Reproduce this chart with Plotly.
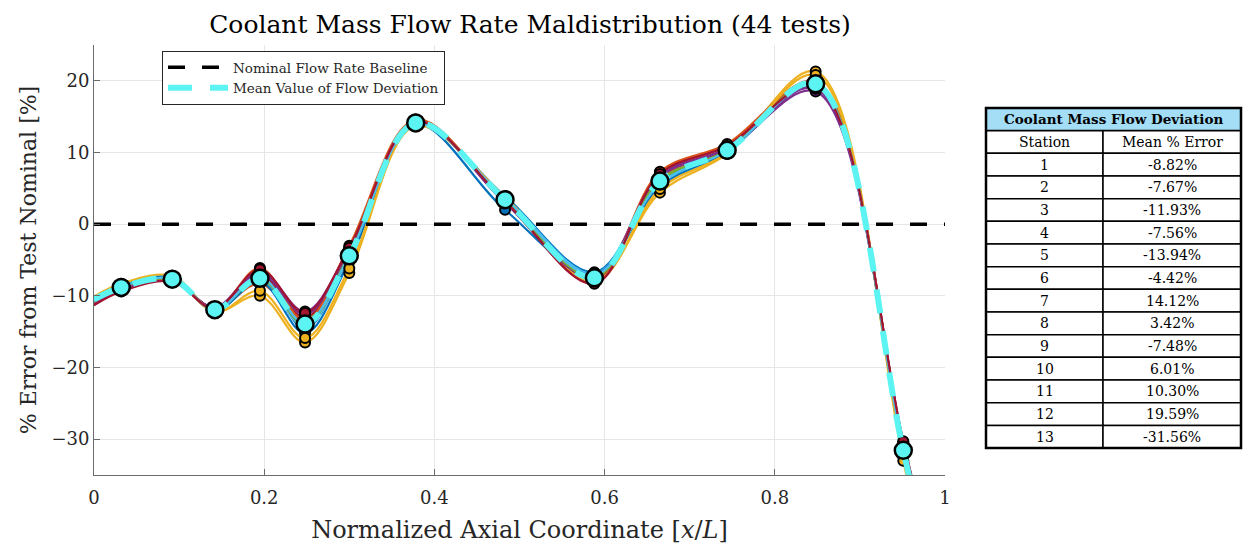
import plotly.graph_objects as go

# ---------------- data ----------------
station_x = [0.032, 0.092, 0.142, 0.195, 0.248, 0.300, 0.378, 0.483, 0.588, 0.665, 0.744, 0.848, 0.951]
station_ids = [1, 2, 3, 4, 5, 6, 7, 8, 9, 10, 11, 12, 13]
mean_error = [-8.82, -7.67, -11.93, -7.56, -13.94, -4.42, 14.12, 3.42, -7.48, 6.01, 10.30, 19.59, -31.56]
curve_ends_x = [0.0, 1.0]
mean_ends = [-10.5, -58.0]

test_01 = [-8.9, -7.5, -12.1, -7.0, -14.6, -4.2, 14.0, 3.9, -6.7, 5.8, 10.1, 19.2, -31.0]
test_02 = [-9.2, -7.9, -11.8, -8.3, -13.6, -5.0, 14.3, 3.2, -7.6, 6.4, 10.6, 19.9, -31.9]
test_03 = [-8.4, -7.3, -12.2, -10.0, -16.5, -6.8, 13.8, 3.6, -7.9, 4.4, 9.8, 21.3, -32.4]
test_04 = [-9.0, -8.0, -11.6, -6.5, -12.2, -3.4, 14.4, 3.0, -7.2, 6.6, 10.4, 18.5, -30.4]
test_05 = [-8.7, -7.6, -11.9, -7.2, -13.2, -4.0, 14.0, 3.5, -7.3, 6.2, 10.2, 19.5, -31.3]
test_06 = [-8.6, -7.4, -12.0, -7.8, -14.3, -4.6, 13.9, 3.7, -6.9, 5.6, 10.0, 19.8, -31.8]
test_07 = [-9.3, -7.9, -11.7, -7.0, -13.0, -3.5, 14.5, 3.1, -8.2, 7.2, 11.0, 19.3, -30.9]
test_08 = [-8.5, -7.5, -12.1, -8.0, -15.2, -5.2, 13.9, 2.0, -7.0, 5.2, 10.1, 19.6, -32.1]
test_09 = [-9.0, -7.8, -12.0, -6.1, -13.5, -3.0, 14.6, 3.3, -7.8, 7.3, 11.2, 19.8, -31.2]
test_10 = [-8.3, -7.2, -12.3, -9.3, -15.9, -6.2, 13.7, 3.8, -8.0, 4.9, 9.9, 20.8, -33.0]
test_11 = [-9.1, -8.0, -11.6, -6.8, -12.6, -3.6, 14.4, 3.0, -7.5, 6.8, 10.6, 18.9, -30.6]
test_12 = [-8.8, -7.7, -11.9, -7.6, -14.0, -4.3, 14.1, 3.4, -7.4, 6.0, 10.3, 19.6, -31.5]
test_13 = [-8.7, -7.6, -12.0, -7.4, -13.8, -4.4, 14.0, 3.6, -7.1, 5.7, 10.2, 19.4, -31.6]
test_14 = [-9.4, -8.0, -11.8, -6.3, -12.4, -3.3, 14.3, 3.2, -8.3, 7.0, 10.9, 19.2, -30.3]
test_start = [-10.9, -11.1, -10.2, -11.2, -10.8, -10.6, -11.3, -10.4, -11.0, -10.1, -11.2, -10.8, -10.7, -11.3]
test_end = [-57.0, -59.0, -60.5, -55.5, -58.0, -59.0, -57.5, -60.0, -57.5, -61.0, -56.0, -58.0, -58.5, -55.0]
tests = [test_01, test_02, test_03, test_04, test_05, test_06, test_07,
         test_08, test_09, test_10, test_11, test_12, test_13, test_14]

baseline_x = [0.0, 1.0]
baseline_y = [0.0, 0.0]

x_tick_vals = [0, 0.2, 0.4, 0.6, 0.8, 1]
x_tick_text = ["0", "0.2", "0.4", "0.6", "0.8", "1"]
y_tick_vals = [-30, -20, -10, 0, 10, 20]
y_tick_text = ["\u221230", "\u221220", "\u221210", "0", "10", "20"]

# ---------------- styles ----------------
FONT = "DejaVu Serif"
line_colors = ["#0072BD", "#D95319", "#EDB120", "#7E2F8E", "#77AC30", "#4DBEEE", "#A2142F"]
CYAN = "#5CF3F3"
HEADER_BLUE = "#A3DDF6"

W, H = 1243, 549
ML, MR, MT, MB = 94, 298, 45, 74

fig = go.Figure()

for i, (vals, s, e) in enumerate(zip(tests, test_start, test_end)):
    c = line_colors[i % len(line_colors)]
    fig.add_trace(go.Scatter(
        x=[curve_ends_x[0]] + station_x + [curve_ends_x[1]],
        y=[s] + vals + [e],
        mode="lines", line=dict(color=c, width=2.2, shape="spline", smoothing=1.0),
        showlegend=False, hoverinfo="skip"))
for i, vals in enumerate(tests):
    c = line_colors[i % len(line_colors)]
    fig.add_trace(go.Scatter(
        x=station_x, y=vals, mode="markers",
        marker=dict(color=c, size=10, line=dict(color="black", width=2)),
        showlegend=False, hoverinfo="skip"))

fig.add_trace(go.Scatter(
    x=[curve_ends_x[0]] + station_x + [curve_ends_x[1]],
    y=[mean_ends[0]] + mean_error + [mean_ends[1]],
    mode="lines", name="Mean Value of Flow Deviation",
    line=dict(color=CYAN, width=6, dash="24px,18px", shape="spline", smoothing=1.0)))

fig.add_trace(go.Scatter(
    x=baseline_x, y=baseline_y, mode="lines", name="Nominal Flow Rate Baseline",
    line=dict(color="black", width=3.5, dash="17px,17px")))

fig.add_trace(go.Scatter(
    x=station_x, y=mean_error, mode="markers", showlegend=False,
    marker=dict(color=CYAN, size=17, line=dict(color="black", width=2.5))))

# ---------------- table (shapes + annotations) ----------------
def px2x(px):
    return (px - ML) / (W - ML - MR)

def px2y(py):
    return (H - MB - py) / (H - MT - MB)

tx_l, tx_m, tx_r = 986, 1103, 1241
ty_top, row_h = 108, 22.67
shapes = []
annotations = []

shapes.append(dict(type="rect", xref="paper", yref="paper",
                   x0=px2x(tx_l), x1=px2x(tx_r), y0=px2y(ty_top + row_h), y1=px2y(ty_top),
                   fillcolor=HEADER_BLUE, line=dict(color="black", width=2)))
annotations.append(dict(xref="paper", yref="paper", x=px2x((tx_l + tx_r) / 2),
                        y=px2y(ty_top + row_h / 2), text="<b>Coolant Mass Flow Deviation</b>",
                        showarrow=False, font=dict(family=FONT, size=13.5, color="black"),
                        xanchor="center", yanchor="middle"))

rows = [("Station", "Mean % Error")] + [(str(sid), f"{v:.2f}%") for sid, v in zip(station_ids, mean_error)]
for r, (a, b) in enumerate(rows):
    y0 = ty_top + row_h * (r + 1)
    y1 = y0 + row_h
    for (xa, xb, txt) in [(tx_l, tx_m, a), (tx_m, tx_r, b)]:
        shapes.append(dict(type="rect", xref="paper", yref="paper",
                           x0=px2x(xa), x1=px2x(xb), y0=px2y(y1), y1=px2y(y0),
                           fillcolor="white", line=dict(color="black", width=1.5)))
        annotations.append(dict(xref="paper", yref="paper", x=px2x((xa + xb) / 2),
                                y=px2y((y0 + y1) / 2), text=txt, showarrow=False,
                                font=dict(family=FONT, size=14, color="black"),
                                xanchor="center", yanchor="middle"))
shapes.append(dict(type="rect", xref="paper", yref="paper",
                   x0=px2x(tx_l), x1=px2x(tx_r),
                   y0=px2y(ty_top + row_h * len(rows) + row_h), y1=px2y(ty_top),
                   line=dict(color="black", width=2.5)))

fig.update_layout(
    width=W, height=H,
    margin=dict(l=ML, r=MR, t=MT, b=MB, pad=0),
    paper_bgcolor="white", plot_bgcolor="white",
    font=dict(family=FONT, color="#262626"),
    title=dict(text="Coolant Mass Flow Rate Maldistribution (44 tests)",
               x=530 / W, xanchor="center",
               y=1 - 24 / H, yanchor="middle", yref="container",
               font=dict(family=FONT, size=25, color="black")),
    xaxis=dict(range=[0, 1], tickvals=x_tick_vals, ticktext=x_tick_text,
               showgrid=True, gridcolor="#E6E6E6", gridwidth=1, zeroline=False,
               showline=True, linecolor="#6b6b6b", linewidth=1,
               ticks="inside", ticklen=6, tickcolor="#6b6b6b", ticklabelstandoff=6,
               tickfont=dict(family=FONT, size=18, color="#262626"),
               title=dict(text="Normalized Axial Coordinate [<i>x</i>/<i>L</i>]",
                          font=dict(family=FONT, size=24, color="#262626"), standoff=14)),
    yaxis=dict(range=[-35, 25], tickvals=y_tick_vals, ticktext=y_tick_text,
               showgrid=True, gridcolor="#E6E6E6", gridwidth=1, zeroline=False,
               showline=True, linecolor="#6b6b6b", linewidth=1,
               ticks="inside", ticklen=6, tickcolor="#6b6b6b",
               tickfont=dict(family=FONT, size=18, color="#262626"),
               title=dict(text="% Error from Test Nominal [%]",
                          font=dict(family=FONT, size=22, color="#262626"), standoff=8)),
    legend=dict(x=px2x(162), y=px2y(51), xanchor="left", yanchor="top",
                bgcolor="white", bordercolor="#262626", borderwidth=1,
                font=dict(family=FONT, size=13.5, color="#262626"),
                itemwidth=60, traceorder="reversed", tracegroupgap=0),
    shapes=shapes, annotations=annotations,
)

fig.write_html("out.html")
